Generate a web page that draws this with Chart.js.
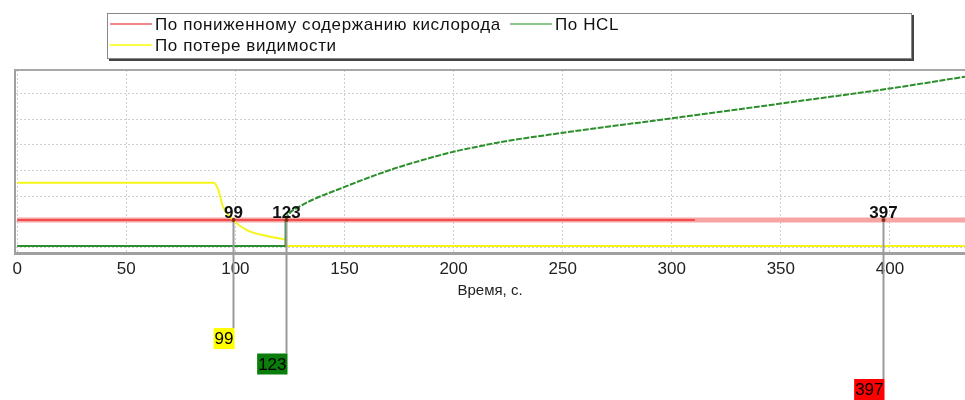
<!DOCTYPE html>
<html><head><meta charset="utf-8">
<script src="https://cdn.jsdelivr.net/npm/chart.js@4/dist/chart.umd.min.js"></script>
<style>html,body{margin:0;padding:0;background:#fff}#wrap{width:965px;height:400px;position:relative}canvas{display:block}</style>
</head><body><div id="wrap"><canvas id="c" width="965" height="400" style="width:965px;height:400px"></canvas></div>
<script>
// ---- data ----
const seriesNames = ['По пониженному содержанию кислорода', 'По HCL', 'По потере видимости'];
const xTicks = [0, 50, 100, 150, 200, 250, 300, 350, 400];
const oxygenX = [0, 434.4];
const oxygenY = [1.07, 1.07];
const oxygenCoreX = [0, 310.6];
const oxygenCoreY = [1.07, 1.07];
const hclLowX = [0, 123, 123];
const hclLowY = [0.06, 0.06, 1.07];
const hclRiseX = [123, 124, 129.7, 150.3, 170.9, 184.7, 199.9, 212.4, 220.5, 250.3, 300, 350.4, 400, 434.4];
const hclRiseY = [1.07, 1.25, 1.61, 2.37, 3.02, 3.38, 3.73, 3.95, 4.09, 4.47, 5.03, 5.61, 6.19, 6.65];
const visCurveX = [0, 90, 92.2, 94.3, 99, 105.2, 114.4, 122, 123];
const visCurveY = [2.52, 2.52, 2.24, 1.59, 1.07, 0.68, 0.45, 0.33, 0.32];
const visTailX = [123, 123, 434.4];
const visTailY = [0.32, 0.06, 0.06];
const markerX = [99, 123, 397];
const markerLabels = ['99', '123', '397'];
const markerLevel = 1.07;
const xTitle = 'Время, с.';

const FONT = 'Liberation Sans, Arial, sans-serif';
const pts = (xs, ys) => xs.map((x, i) => ({x, y: ys[i]}));

const markerColors = ['#ffff00', '#0a7d0a', '#ff0000'];
const legendColors = ['#f08a8a', '#8cc88c', '#ffff44'];
const GREEN = '#2b8f2b', YELLOW = '#f5f51a';

const decor = {
  id: 'decor',
  beforeDatasetsDraw(chart) {
    const {ctx, chartArea: a} = chart;
    ctx.save();
    ctx.strokeStyle = '#a8a8a8'; ctx.lineWidth = 2;
    ctx.beginPath(); ctx.moveTo(a.left, a.top); ctx.lineTo(a.right, a.top); ctx.stroke();
    ctx.restore();
  },
  afterDatasetsDraw(chart) {
    const {ctx, scales: {x, y}} = chart;
    ctx.save();
    const yl = y.getPixelForValue(markerLevel);
    markerX.forEach((v, i) => {
      const px = Math.round(x.getPixelForValue(v)) + 0.5;
      const boxTop = 328 + i * 25.5;
      ctx.strokeStyle = '#9a9a9a'; ctx.lineWidth = 2;
      ctx.beginPath(); ctx.moveTo(px, yl); ctx.lineTo(px, boxTop); ctx.stroke();
      ctx.fillStyle = '#8a2a10';
      ctx.beginPath(); ctx.arc(px, yl, 2, 0, Math.PI * 2); ctx.fill();
      ctx.font = 'bold 17px ' + FONT; ctx.fillStyle = '#111';
      ctx.textAlign = 'center'; ctx.textBaseline = 'alphabetic';
      ctx.fillText(markerLabels[i], px, 218);
      ctx.font = '17px ' + FONT;
      const w = ctx.measureText(markerLabels[i]).width + 2;
      ctx.fillStyle = markerColors[i];
      ctx.fillRect(px + 1 - w, boxTop, w, 21);
      ctx.fillStyle = '#000'; ctx.textAlign = 'right'; ctx.textBaseline = 'middle';
      ctx.fillText(markerLabels[i], px, boxTop + 11.5);
    });
    ctx.restore();
  },
  afterDraw(chart) {
    const {ctx} = chart;
    ctx.save();
    const L = 107, T = 13, R = 912, B = 59;
    ctx.fillStyle = '#444';
    ctx.fillRect(L + 2, T + 2, R - L, B - T);
    ctx.fillStyle = '#fff';
    ctx.fillRect(L, T, R - L, B - T);
    ctx.strokeStyle = '#888'; ctx.lineWidth = 1;
    ctx.strokeRect(L + 0.5, T + 0.5, R - L - 1, B - T - 1);
    const items = [
      {x: 110, y: 24, c: legendColors[0], t: seriesNames[0]},
      {x: 510, y: 24, c: legendColors[1], t: seriesNames[1]},
      {x: 110, y: 45, c: legendColors[2], t: seriesNames[2]},
    ];
    ctx.font = '17px ' + FONT; ctx.textBaseline = 'middle'; ctx.textAlign = 'left';
    try { ctx.letterSpacing = '0.6px'; } catch (e) {}
    items.forEach(it => {
      ctx.strokeStyle = it.c; ctx.lineWidth = 2;
      ctx.beginPath(); ctx.moveTo(it.x, it.y); ctx.lineTo(it.x + 42, it.y); ctx.stroke();
      ctx.fillStyle = '#111';
      ctx.fillText(it.t, it.x + 45, it.y + 1);
    });
    ctx.restore();
  }
};

new Chart(document.getElementById('c'), {
  type: 'line',
  data: {
    datasets: [
      {label: seriesNames[0], data: pts(oxygenX, oxygenY), borderColor: '#f6a4a4', borderWidth: 5, order: 5},
      {label: seriesNames[0] + ' ', data: pts(oxygenCoreX, oxygenCoreY), borderColor: '#ee3030', borderWidth: 1.5, order: 4},
      {label: seriesNames[2], data: pts(visCurveX, visCurveY), borderColor: YELLOW, borderWidth: 2, cubicInterpolationMode: 'monotone', order: 3},
      {label: seriesNames[2] + ' ', data: pts(visTailX, visTailY), borderColor: YELLOW, borderWidth: 2, order: 2},
      {label: seriesNames[1], data: pts(hclLowX, hclLowY), borderColor: GREEN, borderWidth: 2, order: 1},
      {label: seriesNames[1] + ' ', data: pts(hclRiseX, hclRiseY), borderColor: GREEN, borderWidth: 2, borderDash: [6, 1.5], cubicInterpolationMode: 'monotone', order: 0},
    ]
  },
  options: {
    responsive: false,
    animation: false,
    devicePixelRatio: 1,
    layout: {padding: {top: 70, left: 15, right: 0, bottom: 100}},
    elements: {point: {radius: 0}, line: {tension: 0}},
    plugins: {legend: {display: false}, tooltip: {enabled: false}},
    scales: {
      x: {
        type: 'linear', min: -1, max: 434.4,
        afterBuildTicks: s => { s.ticks = xTicks.map(v => ({value: v})); },
        afterFit: s => { s.height = 47; },
        ticks: {font: {family: FONT, size: 17}, color: '#222', padding: 6, maxRotation: 0},
        grid: {color: '#cfcfcf', drawTicks: false},
        border: {color: '#a0a0a0', width: 3, dash: [2, 2]},
        title: {display: true, text: xTitle, font: {family: FONT, size: 15}, color: '#222', padding: {top: 0, bottom: 0}}
      },
      y: {
        min: -0.21, max: 6.91,
        afterBuildTicks: s => { s.ticks = [0, 1, 2, 3, 4, 5, 6].map(v => ({value: v})); },
        ticks: {display: false},
        grid: {color: '#cfcfcf', drawTicks: false},
        border: {color: '#a0a0a0', width: 2, dash: [2, 2]}
      }
    }
  },
  plugins: [decor]
});
</script>
</body></html>
